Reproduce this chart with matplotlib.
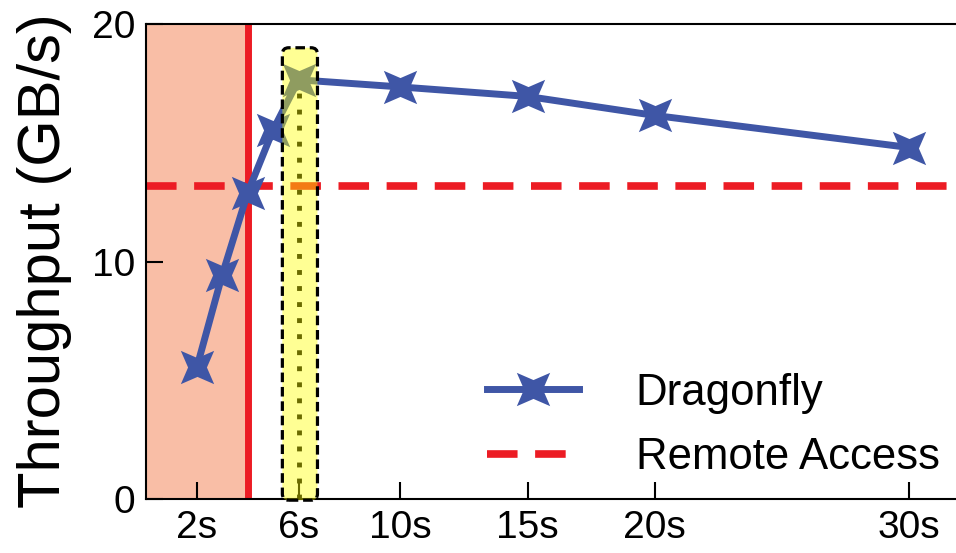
import numpy as np
import matplotlib
matplotlib.use("Agg")
import matplotlib.pyplot as plt
from matplotlib.path import Path
from matplotlib.patches import FancyBboxPatch

plt.rcParams['font.family'] = ['Liberation Sans', 'DejaVu Sans']

# Sampling interval (seconds) vs. throughput
intervals = [2, 3, 4, 5, 6, 10, 15, 20, 30]
throughput = [5.55, 9.45, 12.9, 15.55, 17.65, 17.35, 16.95, 16.15, 14.8]
remote_access = 13.2
tick_values = [2, 6, 10, 15, 20, 30]
tick_labels = ["2s", "6s", "10s", "15s", "20s", "30s"]

BLUE = "#3F56A6"
RED = "#EC1C24"
SALMON = "#F9BEA6"

# four-pointed star rotated 45 degrees
def star4(inner=0.4):
    verts = []
    for k in range(8):
        ang = np.pi / 4 + k * np.pi / 4
        r = 1.0 if k % 2 == 0 else inner
        verts.append((r * np.cos(ang), r * np.sin(ang)))
    verts.append(verts[0])
    codes = [Path.MOVETO] + [Path.LINETO] * 7 + [Path.CLOSEPOLY]
    return Path(verts, codes)

STAR = star4(0.4)

fig = plt.figure(figsize=(9.56, 5.53), dpi=100)
ax = fig.add_axes([146 / 956, 1 - 499 / 553, 1 - 146 / 956, 475 / 553])

ax.set_xlim(0, 31.84)
ax.set_ylim(0, 20)

# warm-up region
ax.axvspan(0, 4, color=SALMON, lw=0, zorder=0)
ax.axvline(4, color=RED, lw=5, zorder=2)

ax.axhline(remote_access, color=RED, lw=5.5, dashes=(4, 2.3), zorder=1,
           label="Remote Access")

ax.plot(intervals, throughput, color=BLUE, lw=5, marker=STAR, ms=24,
        markeredgewidth=0, zorder=3, label="Dragonfly")

# chosen interval
ax.vlines(6, 0, throughput[intervals.index(6)], colors="black", lw=3.5,
          linestyles=(0, (1, 2.3)), zorder=2)
box = FancyBboxPatch((5.36, -0.05), 1.38, 19.05,
                     boxstyle="round,pad=0,rounding_size=0.25",
                     mutation_aspect=25.43 / 23.75,
                     facecolor=(1, 1, 0, 0.42), edgecolor="black", lw=2.3,
                     linestyle=(0, (3, 1.5)), zorder=4, clip_on=False)
ax.add_patch(box)

ax.set_xticks(tick_values)
ax.set_xticklabels(tick_labels)
ax.set_yticks([0, 10, 20])
ax.tick_params(direction="in", length=12, width=1.5, labelsize=28, pad=8)
ax.tick_params(axis="y", pad=8)

for s in ["left", "bottom", "top"]:
    ax.spines[s].set_linewidth(1.5)
ax.spines["right"].set_visible(False)

ax.set_ylabel("Throughput (GB/s)", fontsize=43)
ax.yaxis.set_label_coords(-0.0914, 0.502)

handles, labels = ax.get_legend_handles_labels()
order = [labels.index("Dragonfly"), labels.index("Remote Access")]
ax.legend([handles[i] for i in order], [labels[i] for i in order],
          loc="center left", bbox_to_anchor=(0.421, 0.155), frameon=False,
          fontsize=31.5, handlelength=2.1, handletextpad=1.3, labelspacing=0.53,
          borderpad=0, borderaxespad=0)

fig.savefig("out.png", dpi=100)
